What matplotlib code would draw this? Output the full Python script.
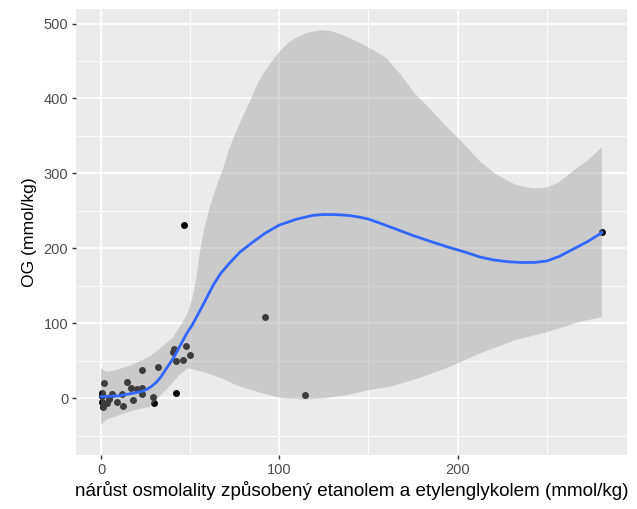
import numpy as np
import matplotlib
matplotlib.use("Agg")
import matplotlib.pyplot as plt
from matplotlib.ticker import MultipleLocator

# Scatter data
pt_x = [0.4, 1.0, 0.5, 0.8, 1.7, 3.2, 4.7, 6.3, 9.2, 11.6, 12.5, 14.4, 16.7, 18.1,
        20.0, 22.9, 22.9, 23.2, 29.0, 29.8, 32.0, 40.6, 41.2, 42.0, 42.0, 46.2,
        46.5, 47.8, 50.0, 91.8, 114.2, 281.0]
pt_y = [7, -12, 3, -5, 19.5, -7, -1, 6, -5, 5, -11, 21, 14, -2,
        12, 14, 6, 37, 2, -6, 41, 61, 66, 49, 7, 51,
        231.6, 69, 58, 108, 3.6, 222]

# Smooth fit line
fit_x = [0, 10, 19, 23, 26, 28.5, 31, 33.5, 36, 38.5, 41, 43, 45.5, 48, 51, 54, 58,
         63, 67, 72, 78, 85, 92, 100, 110, 119, 125, 130, 135, 140, 145, 150, 157,
         165, 175, 185, 194, 204, 213, 220, 228, 236, 243, 250, 257, 265, 273, 281]
fit_y = [2, 3, 7, 9, 12, 16, 21, 28, 37, 46, 55, 64, 75, 86, 97, 110, 128,
         151, 166, 180, 195, 208, 220, 231, 239, 244, 245, 245, 244.5, 243.5, 241.5, 239, 233,
         226, 217, 209, 202, 195, 188, 184.5, 182, 181, 181, 183, 189, 199, 209, 221]

# Confidence band, upper edge
hi_x = [0, 3, 8, 17, 27, 34, 40, 45.5, 48.5, 51, 53.5, 55.6, 58, 61, 65, 68.7, 72,
        76, 80, 83.7, 87, 91, 96, 100.6, 105, 110, 116, 123, 129, 134, 140, 147,
        153, 160, 168, 175.5, 185, 194, 204, 213, 222, 231.6, 237, 243, 250, 256,
        261.6, 267, 272.8, 277, 281]
hi_y = [40, 35, 37, 44, 55, 68, 80, 100, 113, 131, 160, 197, 227, 255, 284, 308, 333,
        357, 378, 397, 416, 433, 450, 464, 474, 482, 488, 491, 490, 486, 480, 472,
        464, 454, 432, 408, 385, 362, 338, 315, 298, 286, 282, 280, 281, 287,
        297, 307, 317, 326, 335]

# Confidence band, lower edge
lo_x = [0, 3, 10, 19, 27, 32, 38, 44, 49, 52, 57, 61, 68, 76, 84, 91, 102, 114, 125,
        138, 151, 162, 175, 194, 213, 232, 250, 269, 281]
lo_y = [-36, -29, -23, -16, -12, 0, 15, 31, 40, 38, 35, 32, 26, 17, 11, 6, -0.5, -2, -0.5,
        4, 11, 15, 24, 40, 60, 77, 88, 102, 108]

x_ticks = [0, 100, 200]
y_ticks = [0, 100, 200, 300, 400, 500]
x_label = "nárůst osmolality způsobený etanolem a etylenglykolem (mmol/kg)"
y_label = "OG (mmol/kg)"

plt.rcParams['font.family'] = ['Liberation Sans', 'DejaVu Sans']

fig = plt.figure(figsize=(6.37, 5.09), dpi=100)
ax = fig.add_axes([76/637, 1 - 455/509, (627 - 76)/637, (455 - 9.3)/509])
ax.set_facecolor('#EBEBEB')
for s in ax.spines.values():
    s.set_visible(False)

ax.set_xlim(-14.05, 295.05)
ax.set_ylim(-76, 519)
ax.set_xticks(x_ticks)
ax.set_yticks(y_ticks)
ax.set_yticks([-50, 50, 150, 250, 350, 450], minor=True)
ax.set_xticks([50, 150, 250], minor=True)
ax.grid(which='major', color='white', linewidth=1.2)
ax.grid(which='minor', color='white', linewidth=0.6)
ax.set_axisbelow(True)
ax.tick_params(which='minor', length=0)
ax.tick_params(which='major', length=3, width=1.0, color='#333333',
               labelcolor='#4D4D4D', labelsize=10.5, pad=2.5)

ax.scatter(pt_x, pt_y, s=25, color='black', zorder=2, linewidths=0)
ax.fill(np.concatenate([hi_x, lo_x[::-1]]), np.concatenate([hi_y, lo_y[::-1]]),
        color='#999999', alpha=0.4, linewidth=0, zorder=3)
ax.plot(fit_x, fit_y, color='#3366FF', linewidth=2.0, zorder=4)

ax.set_xlabel(x_label, fontsize=13.6, color='black', labelpad=3)
ax.set_ylabel(y_label, fontsize=12.6, color='black', labelpad=5)

fig.savefig('out.png', dpi=100)
